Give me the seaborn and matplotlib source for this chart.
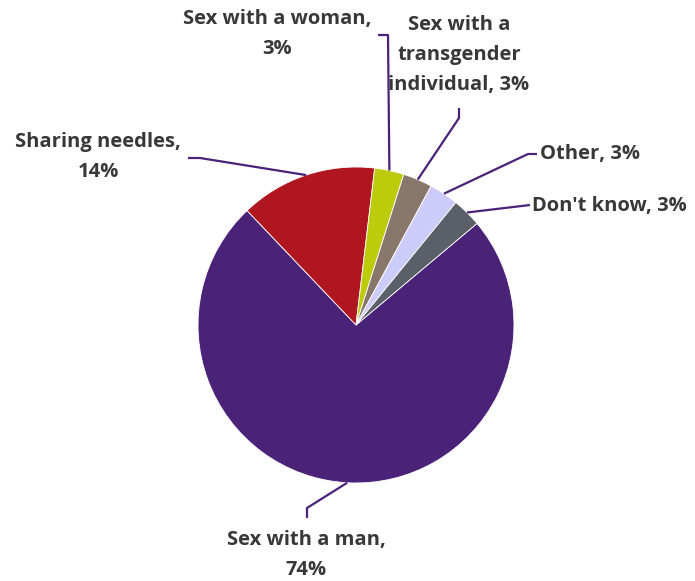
import numpy as np
import matplotlib.pyplot as plt
import seaborn as sns

# data
categories = ["Sex with a man", "Sharing needles", "Sex with a woman",
              "Sex with a transgender individual", "Other", "Don't know"]
shares = [74, 14, 3, 3, 3, 3]
label_texts = ["Sex with a man,\n74%", "Sharing needles,\n14%", "Sex with a woman,\n3%",
               "Sex with a\ntransgender\nindividual, 3%", "Other, 3%", "Don't know, 3%"]

colors = ["#4a2277", "#b0161f", "#bccb0b", "#88776a", "#cdccf8", "#5b6068"]

sns.set_theme(style="white")
plt.rcParams['font.family'] = ['Open Sans', 'DejaVu Sans']

W, H = 695, 581
fig = plt.figure(figsize=(6.95, 5.81), dpi=100)
ax = fig.add_axes([0, 0, 1, 1])

cx, cy, r = 356, H - 325, 158
wedges, _ = ax.pie(shares, colors=colors, startangle=40, counterclock=False,
                   center=(cx, cy), radius=r,
                   wedgeprops=dict(edgecolor='white', linewidth=0.6))
ax.set_xlim(0, W)
ax.set_ylim(0, H)
ax.set_aspect('equal')
ax.axis('off')

# leader line elbows and label placement (pixel coords, top-down)
layout = [
    ([(307, 508), (307, 518)], (306, 555), 'center'),
    ([(200, 158), (188, 158)], (98, 157), 'center'),
    ([(388, 35), (378, 35)], (277, 34), 'center'),
    ([(459, 118), (459, 108)], (459, 55), 'center'),
    ([(528, 154), (537, 154)], (540, 154), 'left'),
    ([(530, 205)], (532, 206), 'left'),
]

line_col = "#4a2277"
for w, txt, (pts, (tx, ty), ha) in zip(wedges, label_texts, layout):
    mid = np.deg2rad((w.theta1 + w.theta2) / 2)
    ax_x = cx + r * np.cos(mid)
    ax_y = cy + r * np.sin(mid)
    xs = [ax_x] + [p[0] for p in pts]
    ys = [ax_y] + [H - p[1] for p in pts]
    ax.plot(xs, ys, color=line_col, lw=1.6, solid_capstyle='butt')
    ax.text(tx, H - ty, txt, ha=ha, va='center', multialignment='center',
            fontsize=14.5, fontweight='bold', color='#383838', linespacing=1.65)

plt.savefig("out.png", dpi=100)
